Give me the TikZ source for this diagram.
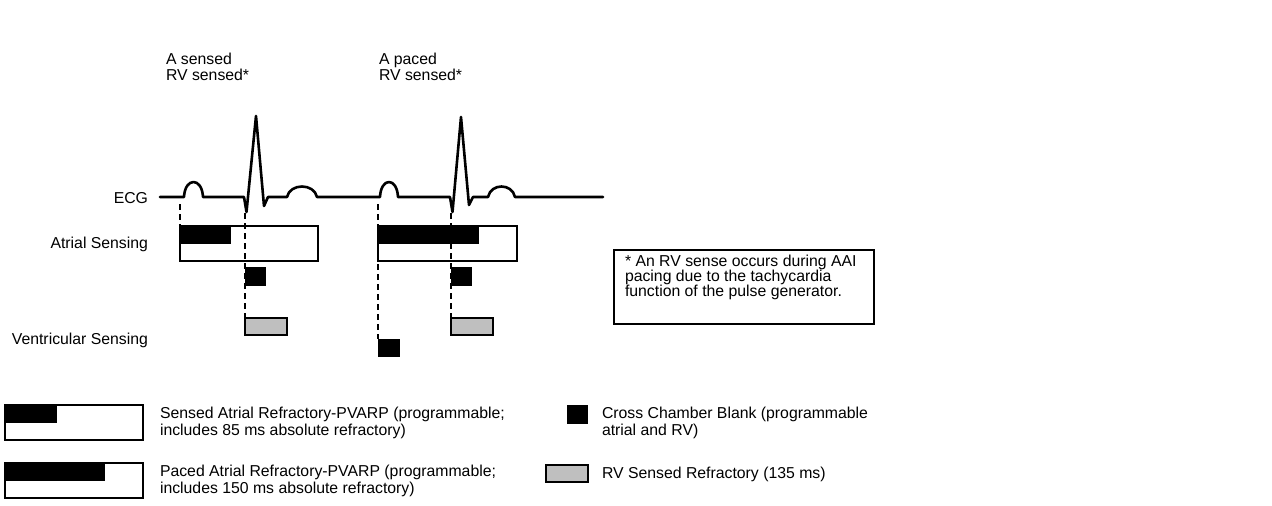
\documentclass[tikz,border=0pt]{standalone}
\usepackage{fontspec}
\setmainfont{Liberation Sans}
\usetikzlibrary{calc}
\definecolor{rvgray}{RGB}{191,191,191}

\begin{document}
\begin{tikzpicture}[
    x=1pt, y=-1pt,
    every node/.style={font=\fontsize{15.8}{16.5}\selectfont, inner sep=0pt, outer sep=0pt},
    rowlabel/.style={anchor=base east},
    ecgtrace/.style={line width=2.6pt, line join=round, line cap=round},
    marker/.style={line width=1.8pt, dash pattern=on 6pt off 4pt},
    atrialbox/.style={draw, line width=1.9pt, anchor=north west, minimum height=35pt},
    refrfill/.style={fill=black, anchor=north west, minimum height=18pt},
    blankbox/.style={fill=black, anchor=north west, minimum width=21pt, minimum height=19pt},
    rvbox/.style={draw, line width=1.7pt, fill=rvgray, anchor=north west,
                  minimum width=42pt, minimum height=17pt},
    legendtext/.style={anchor=north west, align=left}
]
\useasboundingbox (0,0) rectangle (1272,506);

% event labels
\node[legendtext, font=\fontsize{15.8}{16}\selectfont] (lblsensed) at (166,53.5) {A sensed\\RV sensed*};
\node[legendtext, font=\fontsize{15.8}{16}\selectfont] (lblpaced) at (379,53.5) {A paced\\RV sensed*};

% row labels
\node[rowlabel] (ecg) at (148,203) {ECG};
\node[rowlabel] (atrial) at (148,248) {Atrial Sensing};
\node[rowlabel] (ventr) at (148,344) {Ventricular Sensing};

% ECG trace
\draw[ecgtrace] (160,197) -- (184,197)
    .. controls (185,177) and (202,177) .. (203,197)
    -- (244,197) -- (246.5,212) -- (256,116) -- (264,206) -- (268,197)
    -- (287,197) .. controls (290,183) and (314,183) .. (317,197)
    -- (380,197) .. controls (381,177) and (397,177) .. (398,197)
    -- (450,197) -- (452.5,212) -- (461,117) -- (469,205) -- (473,197)
    -- (488,197) .. controls (491,183) and (512,183) .. (515,197)
    -- (603,197);

\coordinate (pa1) at (180,204);
\coordinate (rv1) at (245,213);
\coordinate (pa2) at (378,204);
\coordinate (rv2) at (451,213);

% atrial sensing
\node[refrfill, minimum width=51pt] (fill1) at (180,226) {};
\node[refrfill, minimum width=101pt] (fill2) at (378,226) {};
\node[atrialbox, minimum width=138pt] (sense1) at (180,226) {};
\node[atrialbox, minimum width=139pt] (sense2) at (378,226) {};

% blanking and RV refractory
\node[blankbox] (ccb1) at (245,267) {};
\node[blankbox] (ccb2) at (451,267) {};
\node[blankbox, minimum width=22pt, minimum height=18pt] (ccbv) at (378,339) {};
\node[rvbox] (rvref1) at (245,318) {};
\node[rvbox] (rvref2) at (451,318) {};

\draw[marker] (pa1) -- (sense1.north west);
\draw[marker] (rv1) -- (rvref1.north west);
\draw[marker] (pa2) -- (ccbv.north west);
\draw[marker] (rv2) -- (rvref2.north west);

% footnote
\node[draw, line width=1.3pt, anchor=north west, minimum width=260pt, minimum height=74pt] (note) at (614,250) {};
\node[legendtext, font=\fontsize{15.8}{14.8}\selectfont] (notetext)
    at ([xshift=11pt, yshift=-5.5pt]note.north west)
    {* An RV sense occurs during AAI\\pacing due to the tachycardia\\function of the pulse generator.};

% legend
\node[refrfill, minimum width=52pt] (legfill1) at (5,405) {};
\node[atrialbox, minimum width=138pt] (legsensed) at (5,405) {};
\node[legendtext] (legsensedtxt) at (160,407.5)
    {Sensed Atrial Refractory-PVARP (programmable;\\includes 85 ms absolute refractory)};
\node[refrfill, minimum width=100pt] (legfill2) at (5,463) {};
\node[atrialbox, minimum width=138pt] (legpaced) at (5,463) {};
\node[legendtext] (legpacedtxt) at (160,465.5)
    {Paced Atrial Refractory-PVARP (programmable;\\includes 150 ms absolute refractory)};
\node[blankbox] (legccb) at (567,405) {};
\node[legendtext] (legccbtxt) at (602,407.5) {Cross Chamber Blank (programmable\\atrial and RV)};
\node[rvbox] (legrv) at (546,465) {};
\node[anchor=base west] (legrvtxt) at (602,478) {RV Sensed Refractory (135 ms)};
\end{tikzpicture}
\end{document}
